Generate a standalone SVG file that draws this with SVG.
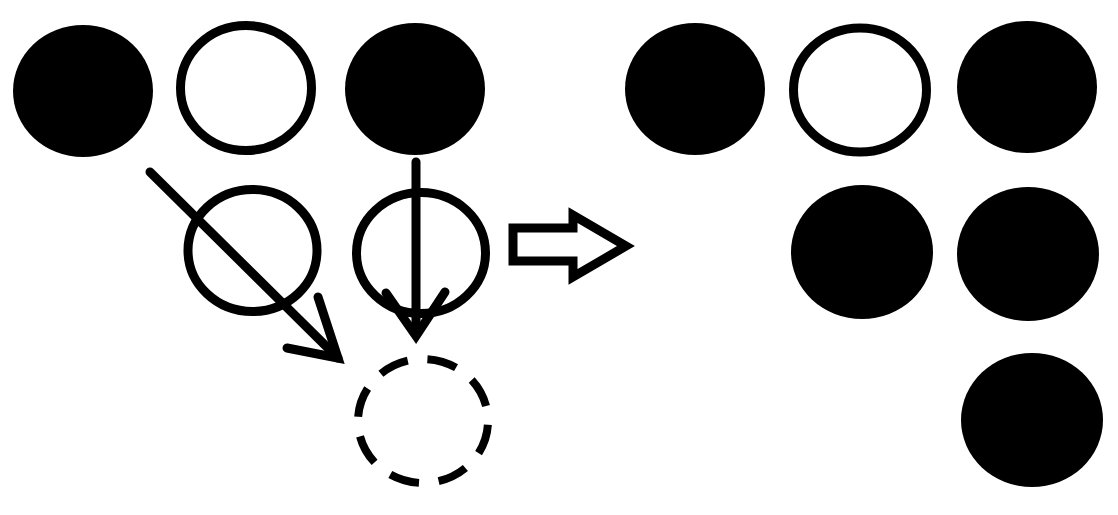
<svg xmlns="http://www.w3.org/2000/svg" width="1118" height="515" viewBox="0 0 1118 515">
<style>
.fill{fill:#000;stroke:none}
.ring{fill:#fff;stroke:#000;stroke-width:9}
.dash{fill:none;stroke:#000;stroke-width:8;stroke-dasharray:30 19.9;stroke-dashoffset:46}
.conn{fill:none;stroke:#000;stroke-width:9;stroke-linecap:round;stroke-linejoin:miter}
.big{fill:#fff;stroke:#000;stroke-width:9;stroke-linejoin:miter}
</style>
<rect width="1118" height="515" fill="#fff"/>
<g id="l1"><ellipse class="fill" cx="83" cy="91" rx="70" ry="66"/></g>
<g id="l2"><ellipse class="ring" cx="246" cy="88" rx="65.5" ry="62.5"/></g>
<g id="l3"><ellipse class="fill" cx="415" cy="89" rx="70" ry="66"/></g>
<g id="m1"><ellipse class="ring" cx="252.5" cy="250.5" rx="64.5" ry="61"/></g>
<g id="m2"><ellipse class="ring" cx="421" cy="253" rx="64.5" ry="60.5"/></g>
<g id="target"><path class="dash" d="M488,421 A65,62 0 1,1 358,421 A65,62 0 1,1 488,421"/></g>
<g id="connectors">
<line class="conn" x1="150" y1="172" x2="338" y2="358"/>
<polyline class="conn" points="318,297 338,358 287,348"/>
<line class="conn" x1="416" y1="162" x2="416" y2="334"/>
<polyline class="conn" points="386,293 416,336 445,292"/>
</g>
<g id="bigarrow"><polygon class="big" points="513,228 573,228 573,215 626,246 573,277 573,261 513,261"/></g>
<g id="r1"><ellipse class="fill" cx="695" cy="89" rx="70" ry="66"/></g>
<g id="r2"><ellipse class="ring" cx="860" cy="90" rx="66.5" ry="62"/></g>
<g id="r3"><ellipse class="fill" cx="1027" cy="87" rx="70" ry="66"/></g>
<g id="r4"><ellipse class="fill" cx="862" cy="252" rx="71" ry="67"/></g>
<g id="r5"><ellipse class="fill" cx="1028" cy="254" rx="71" ry="67"/></g>
<g id="r6"><ellipse class="fill" cx="1032" cy="420" rx="71" ry="67"/></g>
</svg>
